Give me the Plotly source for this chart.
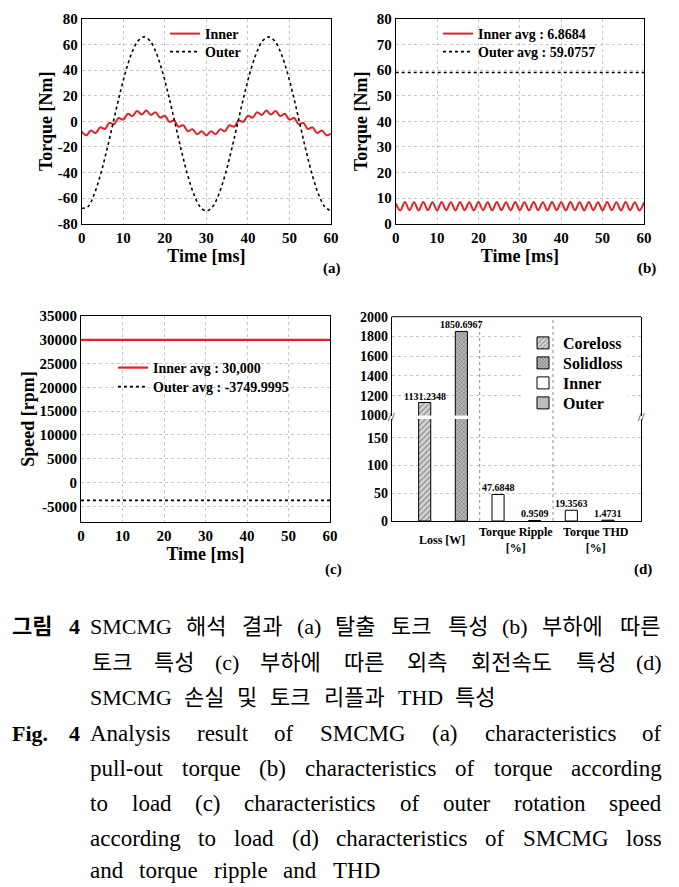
import numpy as np
import plotly.graph_objects as go

W, H = 679, 887

# ---------------- data ----------------
# (a) pull-out torque
time_inner_a = np.linspace(0, 60, 55)
torque_inner_a = [-8.0, -10.8, -7.1, -9.1, -4.7, -6.0, -1.2, -2.3, 2.6, 1.4,
                  5.9, 4.1, 8.0, 5.4, 8.4, 5.0, 7.1, 2.9, 4.4, -0.4,
                  0.7, -4.2, -3.0, -7.7, -6.1, -10.1, -7.8, -11.0, -7.8, -10.1,
                  -6.1, -7.7, -3.0, -4.2, 0.7, -0.4, 4.4, 2.9, 7.1, 5.0,
                  8.4, 5.4, 8.0, 4.1, 5.9, 1.4, 2.6, -2.3, -1.2, -6.0,
                  -4.7, -9.1, -7.1, -10.8, -9.5]
time_outer_a = np.linspace(0, 60, 41)
torque_outer_a = [-68.0, -66.7, -57.0, -42.0, -23.0, -2.0, 19.0, 38.0, 53.0, 62.7,
                  66.0, 62.7, 53.0, 38.0, 19.0, -2.0, -23.0, -42.0, -57.0, -66.7,
                  -70.0, -66.7, -57.0, -42.0, -23.0, -2.0, 19.0, 38.0, 53.0, 62.7,
                  66.0, 62.7, 53.0, 38.0, 19.0, -2.0, -23.0, -42.0, -57.0, -66.7,
                  -70.0]

# (b) torque under load
time_inner_b = np.linspace(0, 60, 55)
torque_inner_b = [8.0, 5.2, 8.5, 5.3, 8.4, 5.2, 8.5, 5.3, 8.4, 5.2,
                  8.5, 5.3, 8.4, 5.2, 8.5, 5.3, 8.4, 5.2, 8.5, 5.3,
                  8.4, 5.2, 8.5, 5.3, 8.4, 5.2, 8.5, 5.3, 8.4, 5.2,
                  8.5, 5.3, 8.4, 5.2, 8.5, 5.3, 8.4, 5.2, 8.5, 5.3,
                  8.4, 5.2, 8.5, 5.3, 8.4, 5.2, 8.5, 5.3, 8.4, 5.2,
                  8.5, 5.3, 8.4, 5.2, 8.3]
time_outer_b = [0, 60]
torque_outer_b = [59.0757, 59.0757]

# (c) speed
time_c = [0, 60]
speed_inner_c = [30000, 30000]
speed_outer_c = [-3749.9995, -3749.9995]

# (d) loss, ripple, THD
bar_slots_core = [1]
bar_vals_core = [1131.2348]
bar_slots_solid = [2]
bar_vals_solid = [1850.6967]
bar_slots_inner = [3, 5]
bar_vals_inner = [47.6848, 19.3563]
bar_slots_outer = [4, 6]
bar_vals_outer = [0.9509, 1.4731]
group_labels = ["Loss [W]", "Torque Ripple<br>[%]", "Torque THD<br>[%]"]

ticks_a = list(range(-80, 81, 20))
ticks_b = list(range(0, 81, 10))
ticks_c = list(range(-5000, 35001, 5000))
ticks_time = list(range(0, 61, 10))

legend_a = ["Inner", "Outer"]
legend_b = ["Inner avg : 6.8684", "Outer avg : 59.0757"]
legend_c = ["Inner avg : 30,000", "Outer avg : -3749.9995"]
legend_d = ["Coreloss", "Solidloss", "Inner", "Outer"]

caption_k = [
    ["SMCMG", "해석", "결과", "(a)", "탈출", "토크", "특성", "(b)", "부하에", "따른"],
    ["토크", "특성", "(c)", "부하에", "따른", "외측", "회전속도", "특성", "(d)"],
    ["SMCMG", "손실", "및", "토크", "리플과", "THD", "특성"],
]
caption_e = [
    ["Analysis", "result", "of", "SMCMG", "(a)", "characteristics", "of"],
    ["pull-out", "torque", "(b)", "characteristics", "of", "torque", "according"],
    ["to", "load", "(c)", "characteristics", "of", "outer", "rotation", "speed"],
    ["according", "to", "load", "(d)", "characteristics", "of", "SMCMG", "loss"],
    ["and", "torque", "ripple", "and", "THD"],
]

# ---------------- helpers ----------------
RED = "#e4202a"
SERIF = "Liberation Serif"
CAP_FONT = "Liberation Serif, Noto Sans CJK KR"


def px_x(p):
    return p / W


def px_y(p):
    return 1 - p / H


TIMES = {
    'a': 444, 'b': 500, 'c': 444, 'd': 500, 'e': 444, 'f': 333, 'g': 500, 'h': 500,
    'i': 278, 'j': 278, 'k': 500, 'l': 278, 'm': 778, 'n': 500, 'o': 500, 'p': 500,
    'q': 500, 'r': 333, 's': 389, 't': 278, 'u': 500, 'v': 500, 'w': 722, 'x': 500,
    'y': 500, 'z': 444, ' ': 250, '(': 333, ')': 333, '-': 333, '.': 250,
    'A': 722, 'B': 667, 'C': 667, 'D': 722, 'E': 611, 'F': 556, 'G': 722, 'H': 722,
    'I': 333, 'L': 611, 'M': 889, 'S': 556, 'T': 611,
}


def text_w(s, size):
    tot = 0
    for ch in s:
        if '\uac00' <= ch <= '\ud7a3':
            tot += 1000
        else:
            tot += TIMES.get(ch, 500)
    return tot * size / 1000.0


axis_font = dict(family=SERIF, size=15, color="black", weight="bold")
title_font = dict(family=SERIF, size=18, color="black", weight="bold")


def base_axis(**kw):
    d = dict(showline=True, linecolor="black", linewidth=1, mirror=True,
             showgrid=True, gridcolor="#c8c8c8", griddash="dot", gridwidth=1,
             zeroline=False, ticks="", tickfont=axis_font, automargin=False)
    d.update(kw)
    return d


def hy(vals):
    return [str(v) for v in vals]


fig = go.Figure()

# (a)
fig.add_trace(go.Scatter(x=time_inner_a, y=torque_inner_a, xaxis="x", yaxis="y",
                         mode="lines", name=legend_a[0], legend="legend",
                         line=dict(color=RED, width=2, shape="spline")))
fig.add_trace(go.Scatter(x=time_outer_a, y=torque_outer_a, xaxis="x", yaxis="y",
                         mode="lines", name=legend_a[1], legend="legend2",
                         line=dict(color="black", width=1.6, dash="dot", shape="spline")))
# (b)
fig.add_trace(go.Scatter(x=time_inner_b, y=torque_inner_b, xaxis="x2", yaxis="y2",
                         mode="lines", name=legend_b[0], legend="legend3",
                         line=dict(color=RED, width=2, shape="spline")))
fig.add_trace(go.Scatter(x=time_outer_b, y=torque_outer_b, xaxis="x2", yaxis="y2",
                         mode="lines", name=legend_b[1], legend="legend4",
                         line=dict(color="black", width=1.6, dash="dot")))
# (c)
fig.add_trace(go.Scatter(x=time_c, y=speed_inner_c, xaxis="x3", yaxis="y3",
                         mode="lines", name=legend_c[0], legend="legend5",
                         line=dict(color=RED, width=2.2)))
fig.add_trace(go.Scatter(x=time_c, y=speed_outer_c, xaxis="x3", yaxis="y3",
                         mode="lines", name=legend_c[1], legend="legend6",
                         line=dict(color="black", width=1.6, dash="dot")))

# (d) bars, drawn on lower (y4) and upper (y5) parts of the broken axis
bar_specs = [
    (legend_d[0], bar_slots_core, bar_vals_core, "legend7",
     dict(color="#d6d6d6", pattern=dict(shape="/", fgcolor="#3a3a3a", bgcolor="#d6d6d6", size=4, solidity=0.3))),
    (legend_d[1], bar_slots_solid, bar_vals_solid, "legend8",
     dict(color="#b0b0b0", pattern=dict(shape="x", fgcolor="#2a2a2a", bgcolor="#b8b8b8", size=3, solidity=0.35))),
    (legend_d[2], bar_slots_inner, bar_vals_inner, "legend9", dict(color="white")),
    (legend_d[3], bar_slots_outer, bar_vals_outer, "legend10", dict(color="#bdbdbd")),
]
for yax, show in (("y4", True), ("y5", False)):
    for name, xs, ys, leg, mk in bar_specs:
        m = dict(mk)
        m["line"] = dict(color="black", width=1)
        fig.add_trace(go.Bar(x=xs, y=ys, xaxis="x4", yaxis=yax, width=0.33,
                             name=name, marker=m, showlegend=show, legend=leg))

# ---------------- axes ----------------
d_left, d_right = 391.7, 641.0
d_top, d_break_hi, d_break_lo, d_bottom = 316.7, 415.5, 419.0, 521.0

fig.update_layout(
    xaxis=base_axis(domain=[px_x(81.7), px_x(331)], anchor="y", range=[0, 60],
                    tickvals=ticks_time, ticktext=hy(ticks_time),
                    title=dict(text="Time [ms]", font=title_font, standoff=4)),
    yaxis=base_axis(domain=[px_y(223.7), px_y(19)], anchor="x", range=[-80, 80],
                    tickvals=ticks_a, ticktext=hy(ticks_a),
                    title=dict(text="Torque [Nm]", font=title_font, standoff=0)),
    xaxis2=base_axis(domain=[px_x(395.7), px_x(644)], anchor="y2", range=[0, 60],
                     tickvals=ticks_time, ticktext=hy(ticks_time),
                     title=dict(text="Time [ms]", font=title_font, standoff=4)),
    yaxis2=base_axis(domain=[px_y(223.7), px_y(19)], anchor="x2", range=[0, 80],
                     tickvals=ticks_b, ticktext=hy(ticks_b),
                     title=dict(text="Torque [Nm]", font=title_font, standoff=4)),
    xaxis3=base_axis(domain=[px_x(81), px_x(330)], anchor="y3", range=[0, 60],
                     tickvals=ticks_time, ticktext=hy(ticks_time),
                     title=dict(text="Time [ms]", font=title_font, standoff=4)),
    yaxis3=base_axis(domain=[px_y(522), px_y(316)], anchor="x3", range=[-8300, 35000],
                     tickvals=ticks_c, ticktext=hy(ticks_c),
                     title=dict(text="Speed [rpm]", font=title_font, standoff=0)),
    xaxis4=base_axis(domain=[px_x(d_left), px_x(d_right)], anchor="y4", range=[0.1, 6.9],
                     showgrid=False, showticklabels=False, mirror=False),
    yaxis4=base_axis(domain=[px_y(d_bottom), px_y(d_break_lo)], anchor="x4", range=[0, 183.5],
                     tickvals=[0, 50, 100, 150], tickfont=dict(axis_font, size=14)),
    yaxis5=base_axis(domain=[px_y(d_break_hi), px_y(d_top)], anchor="x4", range=[1000, 2000],
                     tickvals=list(range(1000, 2001, 200)), tickfont=dict(axis_font, size=14)),
    width=W, height=H,
    margin=dict(l=0, r=0, t=0, b=0),
    paper_bgcolor="white", plot_bgcolor="white",
    barmode="overlay",
    showlegend=True,
)


def leg(line_x, center_y, size=14):
    return dict(xanchor="left", yanchor="top", bgcolor="rgba(0,0,0,0)", borderwidth=0,
                itemwidth=30, tracegroupgap=0,
                font=dict(family=SERIF, size=size, color="black", weight="bold"),
                x=px_x(line_x - 5), y=px_y(center_y - (16 if size <= 14 else 17)))


fig.update_layout(
    legend=leg(170, 34), legend2=leg(170, 52),
    legend3=leg(443, 34), legend4=leg(443, 52),
    legend5=leg(118, 368), legend6=leg(118, 387),
    legend7=leg(528, 343, 16), legend8=leg(528, 363, 16),
    legend9=leg(528, 383, 16), legend10=leg(528, 403, 16),
)

shapes = []
# white backing behind the (d) legend
shapes.append(dict(type="rect", xref="paper", yref="paper", layer="above",
                   x0=px_x(524), x1=px_x(628), y0=px_y(413), y1=px_y(333),
                   fillcolor="white", line=dict(width=0)))
shapes.append(dict(type="line", xref="paper", yref="paper",
                   x0=px_x(d_left), x1=px_x(d_right), y0=px_y(d_top), y1=px_y(d_top),
                   line=dict(color="black", width=1)))
for xs in (2.5, 4.5):
    shapes.append(dict(type="line", xref="x4", yref="paper", x0=xs, x1=xs,
                       y0=px_y(d_bottom), y1=px_y(d_top),
                       line=dict(color="#8c8c8c", width=1, dash="dot")))
fig.update_layout(shapes=shapes)

ann = []
lab_font = dict(family=SERIF, size=15, color="black", weight="bold")
for txt, xp, yp in (("(a)", 332, 268), ("(b)", 647, 268), ("(c)", 333, 569), ("(d)", 643, 569)):
    ann.append(dict(text=txt, x=px_x(xp), y=px_y(yp), xref="paper", yref="paper",
                    xanchor="center", yanchor="middle", showarrow=False, font=lab_font))

for xp in (d_left, d_right):
    ann.append(dict(text="//", x=px_x(xp), y=px_y((d_break_hi + d_break_lo) / 2),
                    xref="paper", yref="paper", xanchor="center", yanchor="middle",
                    showarrow=False, font=dict(family=SERIF, size=12, color="black")))

val_font = dict(family=SERIF, size=10, color="black", weight="bold")
for xs, ys, yref in ((bar_slots_core, bar_vals_core, "y5"), (bar_slots_solid, bar_vals_solid, "y5"),
                     (bar_slots_inner, bar_vals_inner, "y4"), (bar_slots_outer, bar_vals_outer, "y4")):
    for xv, yv in zip(xs, ys):
        ann.append(dict(text=f"{yv:.4f}", x=xv, y=yv, xref="x4", yref=yref,
                        xanchor="center", yanchor="bottom", yshift=-1, showarrow=False,
                        font=val_font))

grp_font = dict(family=SERIF, size=12, color="black", weight="bold")
for txt, xv in zip(group_labels, [1.47, 3.5, 5.68]):
    ann.append(dict(text=txt, x=xv, y=px_y(539.5), xref="x4", yref="paper",
                    xanchor="center", yanchor="middle", showarrow=False, font=grp_font))

# caption
x_l, x_r = 90.0, 662.0
k_lines_y = [626, 662, 697]
e_lines_y = [733, 768, 803, 838, 870]


def place_line(words, yp, size, gap=None):
    out = []
    widths = [text_w(w, size) for w in words]
    if gap is None:
        gap = (x_r - x_l - sum(widths)) / (len(words) - 1)
    pos = x_l
    for w, wd in zip(words, widths):
        out.append(dict(text=w, x=px_x(pos + wd / 2), y=px_y(yp), xref="paper", yref="paper",
                        xanchor="center", yanchor="middle", showarrow=False,
                        font=dict(family=CAP_FONT, size=size, color="black")))
        pos += wd + gap
    return out


for i, (words, yp) in enumerate(zip(caption_k, k_lines_y)):
    ann += place_line(words, yp, 22, gap=None if i < 2 else 10)
for i, (words, yp) in enumerate(zip(caption_e, e_lines_y)):
    ann += place_line(words, yp, 23, gap=None if i < 4 else 16)

bold_cap = dict(family=CAP_FONT, size=22, color="black", weight="bold")
for txt, yp in (("그림", 626), ("Fig.", 733)):
    ann.append(dict(text=txt, x=px_x(10), y=px_y(yp), xref="paper", yref="paper",
                    xanchor="left", yanchor="middle", showarrow=False, font=bold_cap))
    ann.append(dict(text="4", x=px_x(82), y=px_y(yp), xref="paper", yref="paper",
                    xanchor="right", yanchor="middle", showarrow=False, font=bold_cap))

fig.update_layout(annotations=ann)

fig.write_html("out.html", config={"displayModeBar": False},
               post_script="document.body.style.margin='0px';")
